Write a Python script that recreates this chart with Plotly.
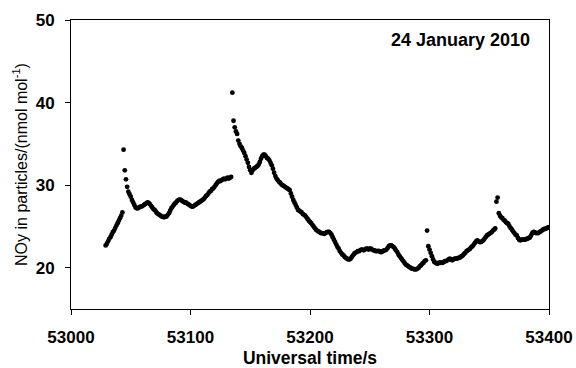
import plotly.graph_objects as go

# Sampling: 1 s resolution starting at 53029 s (Universal time)
t_start = 53029
t_step = 1

# NOy in particles (nmol mol-1), one value per second from 53029 to 53400
noy = [
    22.7, 22.9, 23.2, 23.5, 23.7, 24.0, 24.3, 24.5, 24.8, 25.1,   # 53029
    25.4, 25.7, 26.0, 26.3, 26.7, 34.3, 31.8, 30.7, 29.8, 29.2,   # 53039
    28.9, 28.6, 28.2, 27.9, 27.6, 27.3, 27.2, 27.2, 27.3, 27.4,   # 53049
    27.4, 27.5, 27.6, 27.7, 27.8, 27.9, 27.85, 27.7, 27.5, 27.3,  # 53059
    27.1, 27.0, 26.8, 26.6, 26.5, 26.4, 26.3, 26.2, 26.15, 26.1,  # 53069
    26.2, 26.2, 26.4, 26.6, 26.9, 27.2, 27.4, 27.6, 27.8, 27.9,   # 53079
    28.1, 28.2, 28.25, 28.2, 28.1, 28.0, 27.9, 27.9, 27.8, 27.7,  # 53089
    27.6, 27.5, 27.4, 27.4, 27.5, 27.6, 27.7, 27.8, 27.9, 28.0,   # 53099
    28.1, 28.2, 28.3, 28.5, 28.7, 28.8, 29.0, 29.2, 29.3, 29.5,   # 53109
    29.6, 29.8, 30.0, 30.2, 30.4, 30.5, 30.5, 30.6, 30.7, 30.8,   # 53119
    30.7, 30.8, 30.9, 30.8, 30.9, 31.0, 41.2, 37.8, 37.0, 36.5,   # 53129
    36.2, 35.4, 35.0, 34.7, 34.5, 34.2, 33.9, 33.5, 33.1, 32.7,   # 53139
    32.2, 31.8, 31.5, 31.8, 32.0, 32.1, 32.2, 32.3, 32.5, 32.8,   # 53149
    33.2, 33.5, 33.7, 33.7, 33.5, 33.3, 33.2, 33.0, 32.7, 32.4,   # 53159
    32.0, 31.5, 31.1, 30.8, 30.6, 30.4, 30.3, 30.1, 30.0, 29.9,   # 53169
    29.8, 29.7, 29.6, 29.5, 29.4, 29.0, 28.6, 28.2, 27.9, 27.6,   # 53179
    27.3, 27.0, 26.9, 26.8, 26.7, 26.5, 26.4, 26.3, 26.1, 25.9,   # 53189
    25.7, 25.55, 25.4, 25.2, 25.0, 24.8, 24.6, 24.5, 24.4, 24.3,  # 53199
    24.2, 24.2, 24.15, 24.1, 24.2, 24.3, 24.35, 24.35, 24.2, 24.0,  # 53209
    23.7, 23.4, 23.1, 22.8, 22.5, 22.3, 22.0, 21.8, 21.6, 21.5,   # 53219
    21.3, 21.2, 21.1, 21.0, 21.0, 21.1, 21.3, 21.5, 21.7, 21.8,   # 53229
    21.9, 22.0, 22.0, 22.1, 22.2, 22.2, 22.1, 22.2, 22.3, 22.3,   # 53239
    22.2, 22.3, 22.3, 22.2, 22.1, 22.1, 22.0, 22.0, 22.05, 22.0,  # 53249
    21.9, 21.9, 22.0, 22.1, 22.1, 22.2, 22.4, 22.6, 22.7, 22.7,   # 53259
    22.6, 22.5, 22.3, 22.1, 21.9, 21.6, 21.4, 21.2, 21.0, 20.8,   # 53269
    20.6, 20.4, 20.3, 20.2, 20.1, 20.0, 19.9, 19.9, 19.8, 19.8,   # 53279
    19.8, 19.9, 20.0, 20.2, 20.3, 20.5, 20.6, 20.8, 20.9, 24.5,   # 53289
    22.6, 22.2, 21.8, 21.4, 21.0, 20.7, 20.6, 20.5, 20.5, 20.6,   # 53299
    20.6, 20.6, 20.6, 20.7, 20.8, 20.8, 20.9, 21.0, 21.1, 21.0,   # 53309
    20.9, 21.0, 21.1, 21.1, 21.1, 21.2, 21.2, 21.3, 21.4, 21.5,   # 53319
    21.7, 21.8, 22.0, 22.1, 22.2, 22.3, 22.5, 22.6, 22.8, 23.0,   # 53329
    23.2, 23.3, 23.2, 23.1, 23.1, 23.2, 23.3, 23.5, 23.7, 23.9,   # 53339
    24.0, 24.1, 24.2, 24.3, 24.5, 24.6, 24.75, 28.0, 28.5, 26.6,  # 53349
    26.3, 26.1, 26.0, 25.8, 25.7, 25.5, 25.4, 25.3, 25.0, 24.8,   # 53359
    24.6, 24.4, 24.2, 24.0, 23.9, 23.6, 23.4, 23.3, 23.4, 23.4,   # 53369
    23.4, 23.4, 23.5, 23.5, 23.6, 23.65, 23.9, 24.2, 24.35, 24.3,  # 53379
    24.2, 24.2, 24.2, 24.3, 24.4, 24.5, 24.6, 24.7, 24.7, 24.8,   # 53389
    24.85, 24.9,                                                  # 53399
]

time_s = [t_start + i * t_step for i in range(len(noy))]

x_ticks = [53000, 53100, 53200, 53300, 53400]
y_ticks = [20, 30, 40, 50]
date_label = "24 January 2010"

FONT = "Liberation Sans, Arial, sans-serif"

fig = go.Figure()
fig.add_trace(go.Scatter(
    x=time_s, y=noy, mode="markers",
    marker=dict(color="black", size=4.8, symbol="circle", line=dict(width=0)),
    showlegend=False,
))

axis_common = dict(
    showgrid=False, zeroline=False, automargin=False,
    showline=True, linecolor="black", linewidth=1, mirror=True,
    ticks="outside", ticklen=5, tickwidth=1, tickcolor="black",
    tickfont=dict(family=FONT, size=17, color="black", weight="bold"),
)

fig.update_xaxes(
    range=[53000, 53400], tickvals=x_ticks, ticktext=[str(v) for v in x_ticks],
    ticklabelstandoff=8,
    title=dict(text="<b>Universal time/s</b>", font=dict(family=FONT, size=17.5, color="black"), standoff=6),
    **axis_common,
)
fig.update_yaxes(
    range=[15, 50], tickvals=y_ticks, ticktext=[str(v) for v in y_ticks],
    ticklabelstandoff=7,
    title=dict(text="NOy in particles/(nmol mol<sup>-1</sup>)", font=dict(family=FONT, size=16, color="black"), standoff=4),
    **axis_common,
)

fig.add_annotation(
    text="<b>" + date_label + "</b>", xref="paper", yref="paper",
    x=0.814, y=0.931, xanchor="center", yanchor="middle", showarrow=False,
    font=dict(family=FONT, size=18, color="black"),
)

fig.update_layout(
    width=576, height=368,
    margin=dict(l=71, r=27, t=20, b=59),
    paper_bgcolor="white", plot_bgcolor="white",
)

fig.write_html("out.html")
